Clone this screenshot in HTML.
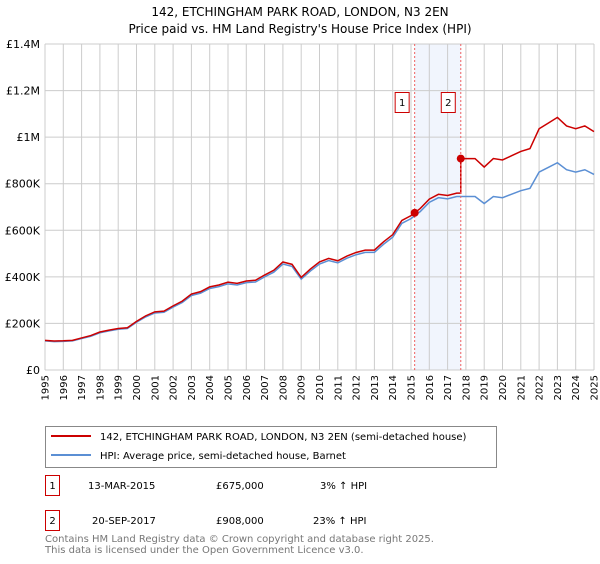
<!DOCTYPE html>
<html><head><meta charset="utf-8"><style>
body{margin:0;background:#fff;font-family:"DejaVu Sans","Liberation Sans",sans-serif;}
</style></head><body>
<svg width="600" height="560" xmlns="http://www.w3.org/2000/svg" font-family="DejaVu Sans, Liberation Sans, sans-serif">
<text x="300" y="16" text-anchor="middle" font-size="12">142, ETCHINGHAM PARK ROAD, LONDON, N3 2EN</text>
<text x="300" y="33" text-anchor="middle" font-size="12">Price paid vs. HM Land Registry's House Price Index (HPI)</text>
<g id="plot"></g>
<g>
<rect x="45.5" y="426.5" width="451" height="41" fill="#fff" stroke="#888"/>
<line x1="51" y1="436" x2="91" y2="436" stroke="#cc0000" stroke-width="2"/>
<text x="100" y="440" font-size="10">142, ETCHINGHAM PARK ROAD, LONDON, N3 2EN (semi-detached house)</text>
<line x1="51" y1="455" x2="91" y2="455" stroke="#5b8fd4" stroke-width="2"/>
<text x="100" y="459" font-size="10">HPI: Average price, semi-detached house, Barnet</text>
</g>
<g font-size="10">
<rect x="45.5" y="475.5" width="14" height="20" fill="#fff" stroke="#cc0000"/>
<text x="52.5" y="489" text-anchor="middle">1</text>
<text x="88" y="489">13-MAR-2015</text><text x="216" y="489">£675,000</text><text x="320" y="489">3% ↑ HPI</text>
<rect x="45.5" y="510.5" width="14" height="20" fill="#fff" stroke="#cc0000"/>
<text x="52.5" y="524" text-anchor="middle">2</text>
<text x="92" y="524">20-SEP-2017</text><text x="216" y="524">£908,000</text><text x="313" y="524">23% ↑ HPI</text>
</g>
<text x="45" y="542" font-size="10" fill="#777">Contains HM Land Registry data © Crown copyright and database right 2025.</text>
<text x="45" y="553" font-size="10" fill="#777">This data is licensed under the Open Government Licence v3.0.</text>
</svg>
<script>
const yTicks=[0,200,400,600,800,1000,1200,1400];
const yTickLabels=["£0","£200K","£400K","£600K","£800K","£1M","£1.2M","£1.4M"];
const years=[1995,1996,1997,1998,1999,2000,2001,2002,2003,2004,2005,2006,2007,2008,2009,2010,2011,2012,2013,2014,2015,2016,2017,2018,2019,2020,2021,2022,2023,2024,2025];
const hpiT=[1995,1995.5,1996,1996.5,1997,1997.5,1998,1998.5,1999,1999.5,2000,2000.5,2001,2001.5,2002,2002.5,2003,2003.5,2004,2004.5,2005,2005.5,2006,2006.5,2007,2007.5,2008,2008.5,2009,2009.5,2010,2010.5,2011,2011.5,2012,2012.5,2013,2013.5,2014,2014.5,2015,2015.5,2016,2016.5,2017,2017.5,2018,2018.5,2019,2019.5,2020,2020.5,2021,2021.5,2022,2022.5,2023,2023.5,2024,2024.5,2025];
const hpiV=[125,122,123,125,135,145,160,168,175,178,205,228,245,248,270,290,320,330,350,358,370,365,375,378,400,420,455,445,390,425,455,470,460,480,495,505,505,540,570,630,650,680,720,740,735,745,745,745,715,745,740,755,770,780,850,870,890,860,850,860,840];
const saleT=[2015.2,2017.72];
const saleV=[675,908];
const saleLabels=["1","2"];
const X0=45,X1=594,Y0=370,Y1=44;
const x=t=>X0+(t-1995)/30*(X1-X0);
const y=v=>Y0-v/1400*(Y0-Y1);
const g=document.getElementById('plot');
const NS='http://www.w3.org/2000/svg';
function mk(tag,a){const e=document.createElementNS(NS,tag);for(const k in a)e.setAttribute(k,a[k]);g.appendChild(e);return e;}
let e=mk('rect',{x:x(saleT[0]),y:Y1,width:x(saleT[1])-x(saleT[0]),height:Y0-Y1,fill:'#eef3fc',opacity:0.8});


years.forEach(yr=>{
 let l=mk('line',{x1:x(yr),x2:x(yr),y1:Y1,y2:Y0,stroke:'#ccc'});
 
 
 let t=mk('text',{x:0,y:0,'font-size':10,'text-anchor':'end',transform:`translate(${x(yr)+3.5},${Y0+5}) rotate(-90)`});
 t.textContent=yr;
 
 
});
yTicks.forEach((v,i)=>{
 let l=mk('line',{x1:X0,x2:X1,y1:y(v),y2:y(v),stroke:'#ccc'});
 
 
 let t=mk('text',{x:X0-5,y:y(v)+4,'font-size':11,'text-anchor':'end'});
 t.textContent=yTickLabels[i];
 
 
});
function hpiAt(t){for(let i=0;i<hpiT.length-1;i++){if(t<=hpiT[i+1]){const f=(t-hpiT[i])/(hpiT[i+1]-hpiT[i]);return hpiV[i]+f*(hpiV[i+1]-hpiV[i]);}}return hpiV[hpiV.length-1];}
let hp=hpiT.map((t,i)=>x(t)+','+y(hpiV[i])).join(' ');
e=mk('polyline',{points:hp,fill:'none',stroke:'#5b8fd4','stroke-width':1.5});


const r1=saleV[0]/hpiAt(saleT[0]),r2=saleV[1]/hpiAt(saleT[1]);
let pts=[];
hpiT.forEach((t,i)=>{if(t<saleT[0])pts.push([t,hpiV[i]*r1]);});
pts.push([saleT[0],saleV[0]]);
hpiT.forEach((t,i)=>{if(t>saleT[0]&&t<saleT[1])pts.push([t,hpiV[i]*r1]);});
pts.push([saleT[1],hpiAt(saleT[1])*r1]);
pts.push([saleT[1],saleV[1]]);
hpiT.forEach((t,i)=>{if(t>saleT[1])pts.push([t,hpiV[i]*r2]);});
e=mk('polyline',{points:pts.map(p=>x(p[0])+','+y(p[1])).join(' '),fill:'none',stroke:'#cc0000','stroke-width':1.5});


saleT.forEach((t,i)=>{
 let l=mk('line',{x1:x(t),x2:x(t),y1:Y1,y2:Y0,stroke:'#f06060','stroke-dasharray':'2,2'});
 
 
 let c=mk('circle',{cx:x(t),cy:y(saleV[i]),r:4,fill:'#cc0000'});
 
 
 let b=mk('rect',{x:x(t)-19.5,y:92.5,width:14,height:20,fill:'#fff',stroke:'#cc0000'});
 
 
 let tx=mk('text',{x:x(t)-12.5,y:106,'font-size':10,'text-anchor':'middle'});
 tx.textContent=saleLabels[i];
 
 
});
</script>
</body></html>
